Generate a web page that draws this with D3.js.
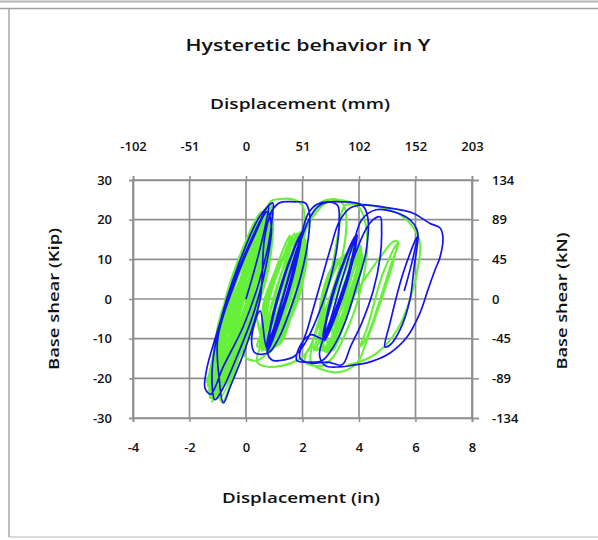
<!DOCTYPE html>
<html><head><meta charset="utf-8">
<script src="https://cdn.jsdelivr.net/npm/d3@7"></script>
<style>body{margin:0;background:#fff}svg{display:block}text{font-family:"Open Sans",sans-serif;fill:#111}</style>
</head><body><svg id="c" width="598" height="540"></svg>
<script>
// ---- data ----
const titleText = "Hysteretic behavior in Y";
const xTicksIn = [-4,-2,0,2,4,6,8];
const xTickLabelsIn = ["-4","-2","0","2","4","6","8"];
const xTickLabelsMm = ["-102","-51","0","51","102","152","203"];
const yTicksKip = [-30,-20,-10,0,10,20,30];
const yTickLabelsKip = ["-30","-20","-10","0","10","20","30"];
const yTickLabelsKn = ["-134","-89","-45","0","45","89","134"];

// blue series (displacement in, base shear kip)
const blueStart = [[0,0],[0.4,10],[0.7,19],[0.8,23.5],[0.45,19],[-0.4,5],[-1.05,-9],[-1.4,-18],[-1.45,-22.5],[-1.25,-24],[-0.8,-17],[-0.1,-7],[0.45,4],
 [0.8,14],[0.95,22],[0.95,24.2],[0.5,21],[-0.3,8],[-0.95,-7],[-1.2,-18],[-1.1,-25.4],[-0.85,-23],[-0.35,-15],[0.25,-4],
 [0.7,8],[0.9,18],[0.75,22],[0.3,16],[-0.45,3],[-1.0,-10],[-0.95,-20],[-0.8,-26.2],[-0.55,-22],[0.0,-12],[0.5,0]];
const blueLoop1 = [[0.65,15],[0.9,22],[1.2,24.3],[1.7,24.5],[2.1,24.2],[2.25,21.5],[2.2,15],[1.95,6],[1.55,-3],[1.15,-10],[0.8,-13.5],[0.32,-13.6],[0.2,-10],[0.5,-3]];
const blueBand1 = [[0.75,-12.5],[1.24,-3.8],[1.72,7.8],[1.95,16.5],[1.46,7.8],[0.98,-3.8],
 [0.72,-12],[1.22,-3.5],[1.70,8],[1.93,16],[1.44,7.5],[0.96,-4],
 [0.78,-13],[1.26,-4],[1.74,7.6],[1.97,16.8],[1.48,8],[1.00,-3.6],
 [0.74,-12.4],[1.23,-3.7],[1.71,7.9],[1.94,16.3],[1.45,7.7],[0.97,-3.9],
 [0.76,-12.6],[1.25,-3.9],[1.73,7.7],[1.96,16.6],[1.47,7.9],[0.99,-3.7],
 [0.73,-12.2],[1.21,-3.6],[1.69,8.1],[1.92,16.1],[1.43,7.6],[0.95,-3.8],
 [0.75,-12.5]];
const blueLoop2 = [[1.2,-2],[1.6,8],[1.95,16],[2.2,21.5],[2.5,23.8],[3.0,24.4],[3.25,23.5],[3.3,20],[3.2,12],[2.9,3],[2.5,-5],[2.1,-11],[1.7,-14.5],[1.2,-15.5],[0.92,-15.4],[0.75,-13]];
const blueLoop3 = [[1.1,-5],[1.5,5],[1.9,14],[2.3,21],[2.7,24],[3.4,24.5],[4.1,23.7],[4.3,21],[4.25,12],[3.9,3],[3.5,-6],[3.1,-12],[2.7,-15.5],[2.2,-15.9],[1.8,-15.5],[1.9,-12],[2.3,-9]];
const blueBand2 = [[2.75,-10],[3.25,-2.2],[3.71,8.2],[3.90,16],[3.41,8.2],[2.95,-2.2],
 [2.72,-9.5],[3.23,-2],[3.69,8.5],[3.87,15.5],[3.39,8],[2.93,-2.5],
 [2.78,-10.5],[3.27,-2.5],[3.73,8],[3.92,16.4],[3.43,8.5],[2.97,-2],
 [2.74,-10],[3.24,-2.2],[3.70,8.2],[3.89,15.8],[3.40,8],[2.94,-2.3],
 [2.76,-10.2],[3.26,-2.4],[3.72,8.1],[3.91,16.2],[3.42,8.3],[2.96,-2.1],
 [2.73,-9.8],[3.22,-2.1],[3.68,8.3],[3.88,15.9],[3.38,8.1],[2.92,-2.2],
 [2.75,-10]];
const blueLoop4 = [[3.3,0],[3.8,10],[4.2,17],[4.5,20],[4.75,20.7],[4.8,17],[4.75,10.6],[4.5,2],[4.1,-6],[3.7,-12],[3.4,-16.6],[2.9,-15.9],[2.3,-16.2],[1.91,-14.9]];
const blueOuter = [[2.2,-7],[2.6,3],[3.0,13],[3.3,19.5],[3.7,23],[4.14,23.7],[5.1,22.9],[5.9,21.7],[6.5,19.1],[6.87,17.9],[6.97,15.6],[6.87,10.6],[6.69,7.3],[6.44,2.3],[6.16,-3.5],[5.7,-9.6],[5.1,-13.6],[4.28,-16.1],[3.86,-16.6],[3.33,-17.1],[2.8,-16.8],[2.6,-14]];
const blueRight = [[3.0,-5],[3.4,5],[3.8,14],[4.1,20],[4.6,22.5],[5.3,21.8],[5.8,20],[6.05,17.5],[6.09,15.6],[5.95,8],[5.8,-0.25],[5.45,-7.8],[5.1,-11.6],[4.92,-12.1],[5.1,-6],[5.56,6.5],[6.05,15.6],[5.9,10],[5.6,2]];

// green series
const greenStart = [[0,0],[0.3,8],[0.5,15],[0.3,12],[-0.3,0],[-0.9,-14]];
const greenBand1 = [[-1.30,-23],[-0.35,-9],[0.45,8],[0.65,21],[-0.15,9],[-0.95,-9],
 [-0.85,-26],[-0.05,-10],[0.60,7],[0.80,23],[-0.05,10],[-0.85,-8],
 [-1.20,-21],[-0.20,-7],[0.50,9],[0.55,19],[-0.25,8],[-1.00,-10],
 [-1.05,-24],[-0.10,-10],[0.60,8],[0.75,22],[-0.10,11],[-0.90,-7],
 [-1.35,-22],[-0.40,-8],[0.40,6],[0.60,18],[-0.30,7],[-1.05,-9],
 [-0.95,-23],[0.05,-9],[0.70,10],[0.85,24],[0.00,12],[-0.75,-6],
 [-1.15,-20],[-0.25,-6],[0.45,8],[0.50,17],[-0.35,6],[-1.00,-8],
 [-1.25,-25],[-0.20,-11],[0.55,7],[0.70,22],[-0.20,9],[-0.95,-10],
 [-1.10,-22],[-0.05,-8],[0.65,9],[0.65,20],[-0.15,10],[-0.90,-9],
 [-0.70,-20],[0.20,-6],[0.80,9],[0.90,22],[0.25,10],[-0.45,-6],
 [-0.80,-22],[0.15,-8],[0.75,8],[0.85,20],[0.15,8],[-0.55,-8],
 [-0.60,-18],[0.30,-4],[0.85,10],[0.85,24],[0.10,9],[-0.60,-6],
 [-1.00,-19],[-0.15,-5],[0.55,11],[0.70,20],[-0.05,7],[-0.80,-7],
 [-1.20,-24],[-0.30,-12],[0.35,4],[0.60,16],[-0.20,5],[-0.90,-12],
 [-0.90,-21],[0.00,-7],[0.65,6],[0.75,19],[0.05,8],[-0.70,-9],
 [-1.10,-17],[-0.20,-3],[0.40,12],[0.55,22],[-0.10,13],[-0.85,-4],
 [-0.95,-25],[-0.10,-12],[0.50,3],[0.70,17],[-0.05,6],[-0.75,-10],
 [-1.35,-22],[-0.66,-9],[0.06,8],[0.45,21],[-0.24,8],[-0.96,-9],
 [-1.10,-23],[-0.41,-10],[0.31,7],[0.70,21],[0.01,9],[-0.71,-8],
 [-0.85,-22],[-0.16,-8],[0.56,9],[0.90,22],[0.26,8],[-0.46,-9],
 [-0.70,-20],[0.04,-9],[0.76,8],[0.95,22],[0.46,8],[-0.26,-9],
 [-1.25,-25],[-0.51,-6],[0.21,5],[0.60,20],[-0.09,11],[-0.81,-12],
 [-1.00,-24],[-0.31,-11],[0.41,6],[0.80,23],[0.11,10],[-0.61,-7],
 [-0.80,-21],[-0.06,-5],[0.66,11],[0.85,21],[0.36,4],[-0.36,-12],
 [-1.20,-20],[-0.55,-4],[0.10,12],[0.50,19],[-0.15,4],[-0.85,-13],
 [-1.40,-21],[-0.79,-9],[-0.07,8],[0.35,19],[-0.31,8],[-1.03,-9],
 [-1.30,-24],[-0.62,-7],[0.10,10],[0.50,21],[-0.14,6],[-0.86,-11],
 [-1.05,-25],[-0.39,-10],[0.33,6],[0.75,22],[0.09,9],[-0.63,-8],
 [-0.90,-23],[-0.24,-8],[0.48,9],[0.85,23],[0.24,7],[-0.48,-10],
 [-0.80,-19],[-0.12,-6],[0.60,11],[0.90,23],[0.36,5],[-0.36,-12],
 [-0.55,-16],[0.06,-8],[0.78,7],[0.95,20],[0.54,10],[-0.18,-6],
 [-1.20,-26],[-0.49,-12],[0.23,4],[0.65,18],[-0.01,11],[-0.73,-5],
 [-1.00,-21],[-0.32,-4],[0.40,12],[0.80,24],[0.16,3],[-0.56,-13],
 [-0.60,-14],[0.30,0],[0.75,14],[0.85,24.4]];
const greenLoop1 = [[1.2,25.2],[1.7,25.0],[2.0,23.5],[2.08,19],[1.9,11],[1.55,2],[1.15,-7],[0.8,-13],[0.4,-15.5],[0.0,-14.8],[-0.1,-11],[0.3,-4]];
const greenBand2 = [[0.72,-13],[1.58,-3.8],[2.02,7.8],[1.92,16.5],[1.12,7.8],[0.66,-3.8],
 [0.68,-12.5],[1.50,-4.2],[1.98,7.2],[1.98,17],[1.18,8.4],[0.72,-3.2],
 [0.80,-13.5],[1.62,-3.4],[2.06,8.4],[1.88,15.5],[1.08,7.2],[0.60,-4.4],
 [0.70,-12.8],[1.54,-4.0],[1.95,7.5],[1.95,16.8],[1.15,8.0],[0.64,-4.0],
 [0.76,-13.2],[1.66,-3.6],[2.08,8.0],[1.90,16.0],[1.10,7.6],[0.62,-3.6],
 [0.50,-12.5],[0.93,-3.8],[1.41,7.8],[1.65,16],[1.17,7.8],[0.69,-3.8],
 [1.05,-12],[1.53,-3.8],[2.01,7.8],[2.10,15],[1.77,7.8],[1.29,-3.8],
 [0.60,-13],[1.08,-3.8],[1.56,7.8],[1.80,16.5],[1.32,7.8],[0.84,-3.8],
 [0.90,-12],[1.38,-3.8],[1.86,7.8],[2.00,16],[1.62,7.8],[1.14,-3.8],
 [1.15,-11],[1.70,-2],[2.05,9],[2.05,14],[1.85,5],[1.40,-5],
 [0.40,-12],[0.83,-3.8],[1.31,7.8],[1.55,16],[1.07,7.8],[0.59,-3.8],
 [1.15,-11.5],[1.63,-3.8],[2.11,7.8],[2.15,14],[1.87,7.8],[1.39,-3.8],
 [0.55,-13],[1.01,-5],[1.49,6],[1.72,16.5],[1.25,9],[0.77,-2.5],
 [0.95,-12.5],[1.45,-2.5],[1.93,9],[2.05,15.5],[1.69,6.5],[1.21,-5],
 [0.74,-12.6]];
const greenLoop2 = [[1.3,-5],[1.7,5],[2.0,14],[2.3,21],[2.7,24.6],[3.3,24.9],[3.5,23],[3.55,18],[3.35,9],[2.95,0],[2.5,-8],[2.15,-13.5],[1.8,-15.5],[1.3,-16.8],[0.78,-17.1],[0.4,-16],[0.5,-12],
 [0.9,-5],[1.4,5],[1.9,14],[2.4,21],[2.9,24.5],[3.6,24.6],[4.0,23],[4.2,20],[4.28,11.6],[3.93,-1],[3.5,-9],[3.1,-14.5],[2.7,-16.8],[2.09,-15.9],[2.3,-12]];
const greenBand3 = [[2.78,-13],[3.55,-2.5],[4.02,7.5],[4.00,13],[3.20,8.5],[2.70,-2.0],
 [2.72,-12.5],[3.50,-2.8],[3.98,7.0],[4.04,13.5],[3.25,9.0],[2.75,-1.6],
 [2.85,-13.5],[3.60,-2.0],[4.06,8.0],[3.96,12.5],[3.15,8.0],[2.66,-2.4],
 [2.75,-12.8],[3.52,-2.6],[4.00,7.4],[4.02,13.2],[3.22,8.8],[2.72,-1.8],
 [3.00,-12.5],[3.49,-2.2],[3.95,8.2],[4.05,12],[3.71,8.2],[3.25,-2.2],
 [3.15,-12],[3.64,-2.2],[4.10,8.2],[4.10,11],[3.86,8.2],[3.40,-2.2],
 [2.50,-13],[2.99,-2.2],[3.45,8.2],[3.65,12],[3.21,8.2],[2.75,-2.2],
 [3.05,-13],[3.58,-4],[4.00,5],[4.08,10],[3.80,4],[3.35,-5],
 [2.95,-13],[3.37,-2.2],[3.83,8.2],[4.00,13],[3.59,8.2],[3.13,-2.2],
 [3.10,-12.5],[3.54,-4],[4.00,6],[4.10,11.5],[3.76,9],[3.30,-1],
 [2.40,-13],[2.87,-3],[3.33,7],[3.55,11],[3.09,8.5],[2.63,-1.5],
 [2.80,-13.2],[3.58,-2.2],[4.04,7.8],[3.98,12.8],[3.18,8.2],[2.68,-2.2],
 [2.78,-13]];
const greenThin = [[3.5,-3],[4.2,5],[4.8,11],[5.2,14.4],[5.38,14.4],[5.1,8],[4.74,-0.25],[4.28,-9.6],[4.04,-12],[4.28,-7.5],[4.85,6.5],[5.35,14],[5.2,9],[4.8,0],[4.3,-10],[3.93,-16.1]];
const greenOuter = [[3.33,-18.4],[2.73,-17.9],[2.3,-16],[2.4,-10],[2.8,0],[3.1,10],[3.3,18],[3.5,23.5],[4.28,23.7],[5.35,21.7],[5.91,18.1],[6.16,14.1],[6.09,8.1],[5.8,-0.25],[5.35,-7.8],[4.64,-13.6],[3.93,-16.1],[3.6,-16.6]];

const blueSeries = [].concat(blueStart, blueLoop1, blueBand1, blueLoop2, blueLoop3, blueBand2, blueLoop4, blueOuter, blueRight);
const greenSeries = [].concat(greenStart, greenBand1, greenLoop1, greenBand2, greenLoop2, greenBand3, greenThin, greenOuter);

// ---- drawing ----
const svg = d3.select("#c");
const L = 133, R = 472, T = 180, B = 418;
const x = d3.scaleLinear().domain([-4,8]).range([L,R]);
const y = d3.scaleLinear().domain([-30,30]).range([B,T]);

// frame
svg.append("line").attr("x1",0).attr("x2",598).attr("y1",1.5).attr("y2",1.5).attr("stroke","#b4b4b4").attr("stroke-width",2);
svg.append("line").attr("x1",0).attr("x2",598).attr("y1",8.5).attr("y2",8.5).attr("stroke","#a0a0a0").attr("stroke-width",1.5);
svg.append("line").attr("x1",9).attr("x2",9).attr("y1",9).attr("y2",537).attr("stroke","#a8a8a8").attr("stroke-width",1.5);
svg.append("line").attr("x1",9).attr("x2",598).attr("y1",537).attr("y2",537).attr("stroke","#b8b8b8").attr("stroke-width",1);

const gridColor = "#8f8f8f";
const grid = svg.append("g");
xTicksIn.forEach(v => grid.append("line").attr("x1",x(v)).attr("x2",x(v)).attr("y1",T).attr("y2",B).attr("stroke",gridColor).attr("stroke-width",1.7));
yTicksKip.forEach(v => grid.append("line").attr("x1",L).attr("x2",R).attr("y1",y(v)).attr("y2",y(v)).attr("stroke",gridColor).attr("stroke-width",1.7));

// axes (ticks)
const axStyle = g => { g.select(".domain").attr("stroke",gridColor).attr("stroke-width",1.7).attr("fill","none");
  g.selectAll(".tick line").attr("stroke",gridColor).attr("stroke-width",1.5);
  g.selectAll("text").attr("font-size",13).attr("font-weight",600).attr("fill","#151515").attr("font-family","'Open Sans',sans-serif"); };
svg.append("g").attr("transform",`translate(0,${B})`).call(d3.axisBottom(x).tickValues(xTicksIn).tickSize(4).tickPadding(21).tickFormat((d,i)=>xTickLabelsIn[i])).call(axStyle);
svg.append("g").attr("transform",`translate(0,${T})`).call(d3.axisTop(x).tickValues(xTicksIn).tickSize(4).tickPadding(25).tickFormat((d,i)=>xTickLabelsMm[i])).call(axStyle);
svg.append("g").attr("transform",`translate(${L},0)`).call(d3.axisLeft(y).tickValues(yTicksKip).tickSize(4).tickPadding(17).tickFormat((d,i)=>yTickLabelsKip[i])).call(axStyle);
svg.append("g").attr("transform",`translate(${R},0)`).call(d3.axisRight(y).tickValues(yTicksKip).tickSize(7).tickPadding(13).tickFormat((d,i)=>yTickLabelsKn[i])).call(axStyle);

// series (green underneath, blue on top)
const line = d3.line().x(d=>x(d[0])).y(d=>y(d[1])).curve(d3.curveCatmullRom.alpha(0.5));
svg.append("path").datum(greenSeries).attr("d",line).attr("fill","none").attr("stroke","#66f03a").attr("stroke-width",2.1).attr("stroke-linejoin","round");
svg.append("path").datum(blueSeries).attr("d",line).attr("fill","none").attr("stroke","#1414f0").attr("stroke-width",1.7).attr("stroke-linejoin","round");

// labels
const lab = (t, xx, yy, size, len, rot) => {
  const el = svg.append("text").attr("text-anchor","middle").attr("font-size",size).attr("font-weight",600)
    .attr("textLength",len).attr("lengthAdjust","spacingAndGlyphs").text(t);
  if (rot) el.attr("transform",`translate(${xx},${yy}) rotate(-90)`); else el.attr("x",xx).attr("y",yy);
  return el;
};
lab(titleText, 308, 51, 15.5, 245);
lab("Displacement (mm)", 300, 109, 14, 180);
lab("Displacement (in)", 301, 503, 14, 158);
lab("Base shear (Kip)", 59, 299, 13.5, 142, true);
lab("Base shear (kN)", 567, 301, 13.5, 137, true);
</script></body></html>
